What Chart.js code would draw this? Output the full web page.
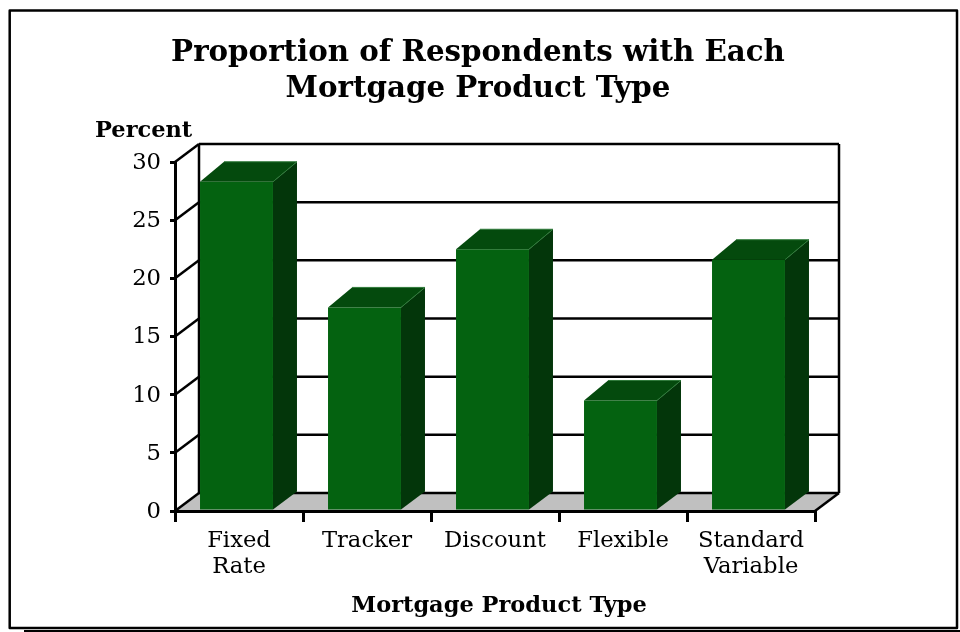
<!DOCTYPE html>
<html>
<head>
<meta charset="utf-8">
<title>Mortgage Product Type</title>
<script src="https://cdn.jsdelivr.net/npm/chart.js@4/dist/chart.umd.min.js"></script>
<style>
  html, body { margin: 0; padding: 0; background: #fff; }
  canvas { display: block; }
</style>
</head>
<body>
<canvas id="mortgageChart" width="960" height="632"></canvas>
<script>
const categories = [["Fixed", "Rate"], "Tracker", "Discount", "Flexible", ["Standard", "Variable"]];
const percentValues = [28.3, 17.5, 22.5, 9.5, 21.6];
const tickStep = 5;
const axisMax = 30;

const titleLines = ["Proportion of Respondents with Each", "Mortgage Product Type"];
const yAxisLabel = "Percent";
const xAxisLabel = "Mortgage Product Type";

const FONT = '"DejaVu Serif", serif';
const DEPTH_X = 24;
const DEPTH_Y = 18;
const BAR_TOP_DEPTH_Y = 20;
const BAR_SHIFT = -2.5;

function line(ctx, x1, y1, x2, y2) {
  ctx.beginPath();
  ctx.moveTo(x1, y1);
  ctx.lineTo(x2, y2);
  ctx.stroke();
}

function face(ctx, points, fill) {
  ctx.beginPath();
  points.forEach((p, i) => (i ? ctx.lineTo(p[0], p[1]) : ctx.moveTo(p[0], p[1])));
  ctx.closePath();
  ctx.fillStyle = fill;
  ctx.fill();
}

// Outer frame plus the floor and walls behind the bars
const backdrop = {
  id: "backdrop",
  beforeDatasetsDraw(chart) {
    const { ctx, chartArea: a, scales } = chart;
    ctx.save();
    ctx.strokeStyle = "#000";
    ctx.lineJoin = "round";
    ctx.lineWidth = 2.5;
    ctx.strokeRect(9.7, 10.5, 947.3, 617.5);
    ctx.lineWidth = 2;
    line(ctx, 24, 631, 960, 631);

    face(ctx, [[a.left, a.bottom], [a.left + DEPTH_X, a.bottom - DEPTH_Y],
      [a.right + DEPTH_X, a.bottom - DEPTH_Y], [a.right, a.bottom]], "#c0c0c0");

    ctx.lineWidth = 2.5;
    scales.y.ticks.forEach((t) => {
      const y = scales.y.getPixelForValue(t.value);
      line(ctx, a.left, y, a.left + DEPTH_X, y - DEPTH_Y);
      line(ctx, a.left + DEPTH_X, y - DEPTH_Y, a.right + DEPTH_X, y - DEPTH_Y);
    });
    line(ctx, a.left + DEPTH_X, a.top - DEPTH_Y, a.left + DEPTH_X, a.bottom - DEPTH_Y);
    line(ctx, a.right + DEPTH_X, a.top - DEPTH_Y, a.right + DEPTH_X, a.bottom - DEPTH_Y);
    line(ctx, a.right, a.bottom, a.right + DEPTH_X, a.bottom - DEPTH_Y);
    ctx.restore();

    // side and top faces of every bar, shifted along with the fronts
    const meta = chart.getDatasetMeta(0);
    ctx.save();
    ctx.translate(BAR_SHIFT, 0);
    meta.data.forEach((bar) => {
      const left = bar.x - bar.width / 2;
      const right = bar.x + bar.width / 2;
      const backTop = bar.y - BAR_TOP_DEPTH_Y;
      face(ctx, [[right, bar.y], [right + DEPTH_X, backTop],
        [right + DEPTH_X, bar.base - DEPTH_Y], [right, bar.base]], "#03360a");
      face(ctx, [[left, bar.y], [left + DEPTH_X, backTop],
        [right + DEPTH_X, backTop], [right, bar.y]], "#044a0d");
      ctx.strokeStyle = "#2f7a3a";
      ctx.lineWidth = 1;
      ctx.beginPath();
      ctx.moveTo(right, bar.y);
      ctx.lineTo(right + DEPTH_X, backTop);
      ctx.lineTo(left + DEPTH_X, backTop);
      ctx.stroke();
    });
    ctx.restore();
  },
  beforeDatasetDraw(chart) {
    chart.ctx.save();
    chart.ctx.translate(BAR_SHIFT, 0);
  },
  afterDatasetDraw(chart) {
    chart.ctx.restore();
  },
  afterDraw(chart) {
    const { ctx } = chart;
    ctx.save();
    ctx.fillStyle = "#000";
    ctx.textBaseline = "alphabetic";
    ctx.textAlign = "center";
    ctx.font = "bold 29.3px " + FONT;
    ctx.fillText(titleLines[0], 478, 61);
    ctx.fillText(titleLines[1], 478, 97);
    ctx.font = "bold 22.5px " + FONT;
    ctx.fillText(xAxisLabel, 499, 612);
    ctx.textAlign = "left";
    ctx.fillText(yAxisLabel, 95, 137);
    ctx.restore();
  }
};

new Chart(document.getElementById("mortgageChart"), {
  type: "bar",
  data: {
    labels: categories,
    datasets: [{
      data: percentValues,
      backgroundColor: "#046210",
      borderWidth: 0,
      barPercentage: 0.57,
      categoryPercentage: 1
    }]
  },
  options: {
    responsive: false,
    animation: false,
    layout: { padding: { left: 0, right: 145, top: 162, bottom: 0 } },
    plugins: {
      legend: { display: false },
      tooltip: { enabled: false },
      title: { display: false }
    },
    scales: {
      x: {
        afterFit: (s) => { s.height = 121; },
        border: { color: "#000", width: 3, z: 2 },
        grid: { drawOnChartArea: false, color: "#000", lineWidth: 3, tickLength: 11 },
        ticks: { color: "#000", maxRotation: 0, autoSkip: false, padding: 6, font: { family: FONT, size: 22.7, lineHeight: 1.14 } }
      },
      y: {
        min: 0,
        max: axisMax,
        afterFit: (s) => { s.width = 175; },
        border: { color: "#000", width: 3, z: 2 },
        grid: { drawOnChartArea: false, color: "#000", lineWidth: 3, tickLength: 5 },
        ticks: { stepSize: tickStep, color: "#000", padding: 9, labelOffset: 1, font: { family: FONT, size: 22.7 } }
      }
    }
  },
  plugins: [backdrop]
});
</script>
</body>
</html>
